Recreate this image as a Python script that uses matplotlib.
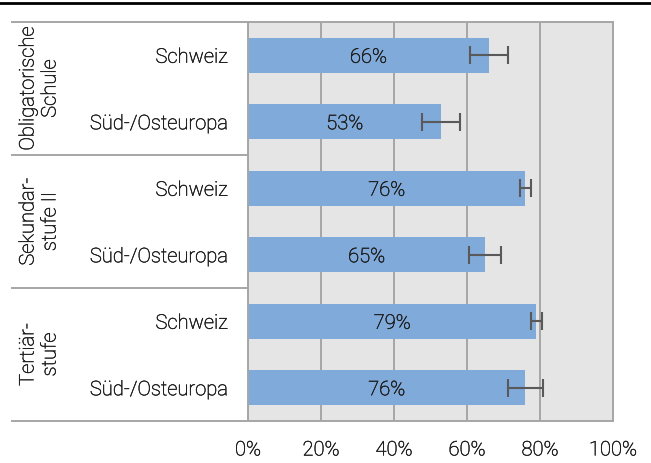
import numpy as np
import matplotlib
matplotlib.use("Agg")
import matplotlib.pyplot as plt
import matplotlib.patheffects as pe
from matplotlib.lines import Line2D
from matplotlib.transforms import blended_transform_factory

plt.rcParams['font.family'] = ['Roboto', 'DejaVu Sans']

# data
groups = ["Obligatorische\nSchule", "Sekundar-\nstufe II", "Tertiär-\nstufe"]
categories = ["Schweiz", "Süd-/Osteuropa"] * 3
values = [66, 53, 76, 65, 79, 76]
errors = [5.3, 5.2, 1.5, 4.4, 1.5, 4.8]
xticks = [0, 20, 40, 60, 80, 100]

bar_color = '#80aada'
grid_color = '#a6a6a6'
text_color = '#1e1e1e'
fs = 14.5
fw = 'light'
# light font, slightly thickened to match the reference rendering
fx = [pe.withStroke(linewidth=0.35, foreground=text_color)]

fig = plt.figure(figsize=(6.51, 4.64), dpi=100)
ax = fig.add_axes([248 / 651, 1 - 422 / 464, 365 / 651, 399 / 464])
ax.set_facecolor('#e5e5e5')

y = np.arange(len(values))
ax.barh(y, values, height=0.52, color=bar_color, zorder=2)
ax.errorbar(values, y, xerr=errors, fmt='none', ecolor='#595959',
            elinewidth=1.5, capsize=6.5, capthick=1.5, zorder=3)

for yi, v in zip(y, values):
    ax.text(v / 2, yi + 0.03, f"{v}%", ha='center', va='center', fontsize=fs,
            color=text_color, fontweight=fw, path_effects=fx, zorder=4)

ax.set_xlim(0, 100)
ax.set_ylim(len(values) - 0.5, -0.5)
ax.set_xticks(xticks)
ax.set_xticklabels([f"{t}%" for t in xticks], fontsize=fs, color=text_color,
                   fontweight=fw, path_effects=fx)
ax.set_yticks(y)
ax.set_yticklabels(categories, fontsize=fs, color=text_color, fontweight=fw,
                   path_effects=fx)
ax.tick_params(axis='both', length=0)
ax.tick_params(axis='x', pad=14)
ax.tick_params(axis='y', pad=14.5)
ax.xaxis.grid(True, color=grid_color, linewidth=1.4, zorder=1)
ax.set_axisbelow(True)
for s in ax.spines.values():
    s.set_color(grid_color)
    s.set_linewidth(1.4)

# left table with group labels
tr = blended_transform_factory(fig.transFigure, ax.transData)
for b in [-0.5, 1.5, 3.5, 5.5]:
    ax.add_line(Line2D([12 / 651, 248 / 651], [b, b], transform=tr,
                       color=grid_color, linewidth=1.4, clip_on=False))
for i, g in enumerate(groups):
    ax.text(39 / 651, 2 * i + 0.5, g, transform=tr, rotation=90,
            ha='center', va='center', fontsize=fs, color=text_color,
            fontweight=fw, path_effects=fx, linespacing=1.2,
            multialignment='center')

# top rule
fig.add_artist(Line2D([0, 1], [1 - 4 / 464, 1 - 4 / 464], color='black',
                      linewidth=2))

fig.savefig("out.png", dpi=100)
